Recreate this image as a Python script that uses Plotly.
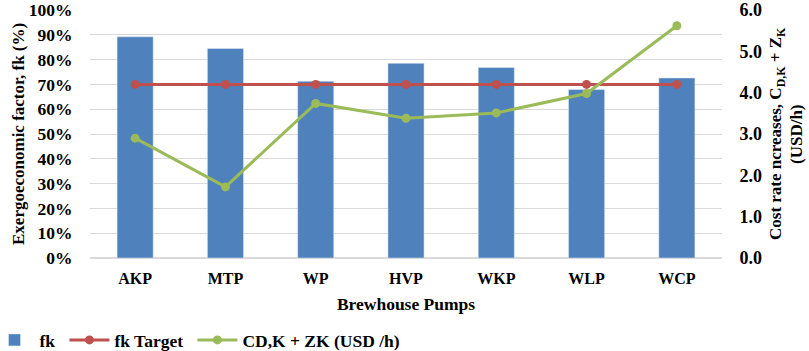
import plotly.graph_objects as go

pumps = ["AKP", "MTP", "WP", "HVP", "WKP", "WLP", "WCP"]
fk = [0.892, 0.845, 0.713, 0.785, 0.768, 0.679, 0.726]
fk_target = [0.70, 0.70, 0.70, 0.70, 0.70, 0.70, 0.70]
cost_rate = [2.90, 1.72, 3.74, 3.38, 3.51, 3.98, 5.62]
series_names = ["fk", "fk Target", "CD,K + ZK (USD /h)"]

FONT = "Liberation Serif"
blue = "#4f81bd"
red = "#c0504d"
green = "#9bbb59"


def f(size):
    return dict(family=FONT, size=size, color="black", weight="bold")


fig = go.Figure()
fig.add_trace(go.Bar(x=pumps, y=fk, name=series_names[0] + "&nbsp;", marker_color=blue, width=0.4))
fig.add_trace(go.Scatter(x=pumps, y=fk_target, name=series_names[1] + "&nbsp;", mode="lines+markers",
                         line=dict(color=red, width=3), marker=dict(color=red, size=9)))
fig.add_trace(go.Scatter(x=pumps, y=cost_rate, name=series_names[2], mode="lines+markers",
                         line=dict(color=green, width=3), marker=dict(color=green, size=9), yaxis="y2"))

L, R, T, B = 90, 87, 10, 93
PW = 809 - L - R
PH = 351 - T - B

fig.update_layout(
    width=809, height=351,
    margin=dict(l=L, r=R, t=T, b=B, autoexpand=False),
    paper_bgcolor="white", plot_bgcolor="white",
    font=f(17),
    showlegend=True,
    legend=dict(orientation="h", x=-0.159, xanchor="left", y=(T + PH - 340) / PH, yanchor="middle",
                font=f(17.5), itemwidth=40, traceorder="normal"),
    xaxis=dict(showgrid=False, showline=False, ticks="outside", ticklen=6, tickcolor="white",
               tickfont=f(16), automargin=False,
               title=dict(text="Brewhouse Pumps", font=f(17.5), standoff=11)),
    yaxis=dict(range=[0, 1], dtick=0.1, tickformat=".0%", showgrid=True, gridcolor="#d9d9d9",
               gridwidth=1, zeroline=True, zerolinecolor="#d9d9d9", showline=False,
               ticks="outside", ticklen=13, tickcolor="white", ticklabeloverflow="allow",
               tickfont=f(17.5), automargin=False),
    yaxis2=dict(range=[0, 6], dtick=1, tickformat=".1f", overlaying="y", side="right",
                showgrid=False, zeroline=False, showline=False,
                ticks="outside", ticklen=13, tickcolor="white", ticklabeloverflow="allow",
                tickfont=f(18), automargin=False),
    annotations=[
        dict(text="Exergoeconomic factor, fk (%)", xref="paper", yref="paper",
             x=(18 - L) / PW, y=0.5, xanchor="center", yanchor="middle",
             textangle=-90, showarrow=False, font=f(17)),
        dict(text="Cost rate ncreases, C<sub>D,K</sub> + Z<sub>K</sub>", xref="paper", yref="paper",
             x=(777 - L) / PW, y=0.5, xanchor="center", yanchor="middle",
             textangle=-90, showarrow=False, font=f(17)),
        dict(text="(USD/h)", xref="paper", yref="paper",
             x=(796 - L) / PW, y=0.5, xanchor="center", yanchor="middle",
             textangle=-90, showarrow=False, font=f(17)),
    ],
)

fig.write_html("out.html", config={"displayModeBar": False},
               post_script="document.body.style.margin='0px';")
